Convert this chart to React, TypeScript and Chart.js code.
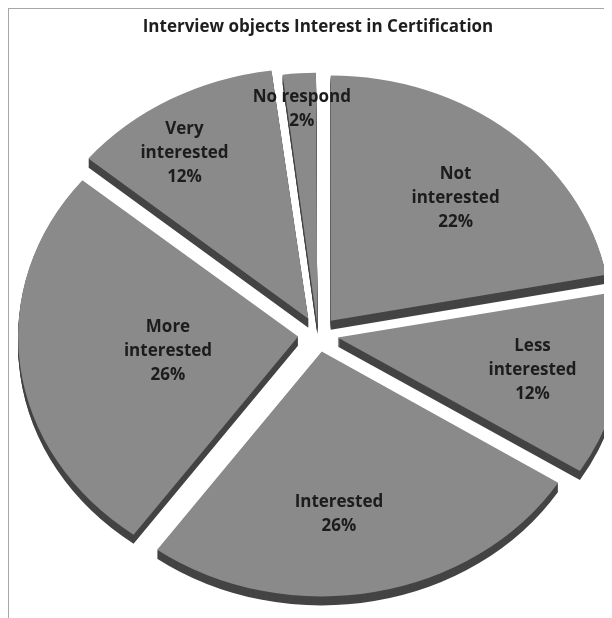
import React, { useEffect, useRef } from "react";
import { Chart, registerables } from "chart.js";

Chart.register(...registerables);

const title = "Interview objects Interest in Certification";
const categories = [
  "Not interested",
  "Less interested",
  "Interested",
  "More interested",
  "Very interested",
  "No respond",
];
const labelLines = [
  ["Not", "interested"],
  ["Less", "interested"],
  ["Interested"],
  ["More", "interested"],
  ["Very", "interested"],
  ["No respond"],
];
const percentages = [22, 12, 26, 26, 12, 2];

// styling / layout
const FACE = "#8a8a8a";
const SIDE = "#444444";
const KY = 0.875;
const DEPTH = 9;
const RADIUS = 280;
const explode = [80, 80, 80, 80, 80, 40];
const labelRadius = [0.74, 0.78, 0.74, 0.54, 0.88, 0.92];
const labelAngleShift = [2, 0, 5, 0, -4, 0]; // degrees

const setEllipse = (ctx: CanvasRenderingContext2D, cx: number, cy: number) => {
  ctx.translate(cx, cy);
  ctx.scale(1, KY);
  ctx.translate(-cx, -cy);
};

const pie3d = {
  id: "pie3d",
  beforeDatasetsDraw(chart: any) {
    const ctx: CanvasRenderingContext2D = chart.ctx;
    const arcs = chart.getDatasetMeta(0).data as any[];
    if (!arcs.length) return;
    const cx = arcs[0].x;
    const cy = arcs[0].y;
    for (let d = DEPTH; d >= 1; d--) {
      ctx.save();
      ctx.translate(0, d);
      setEllipse(ctx, cx, cy);
      arcs.forEach((a) => {
        const fake = Object.assign(Object.create(Object.getPrototypeOf(a)), a);
        fake.options = Object.assign({}, a.options, { backgroundColor: SIDE, borderWidth: 0 });
        fake.draw(ctx);
      });
      ctx.restore();
    }
    ctx.save();
    setEllipse(ctx, cx, cy);
  },
  afterDatasetsDraw(chart: any) {
    const ctx: CanvasRenderingContext2D = chart.ctx;
    const arcs = chart.getDatasetMeta(0).data as any[];
    if (!arcs.length) return;
    ctx.restore();
    const cx = arcs[0].x;
    const cy = arcs[0].y;
    ctx.save();
    ctx.font = "bold 17px 'Open Sans'";
    ctx.fillStyle = "#1c1c1c";
    ctx.textAlign = "center";
    ctx.textBaseline = "middle";
    const lh = 24;
    arcs.forEach((a, i) => {
      const mid = (a.startAngle + a.endAngle) / 2 + (labelAngleShift[i] * Math.PI) / 180;
      const r = labelRadius[i] * RADIUS;
      const x = cx + Math.cos(mid) * r;
      const y = cy + Math.sin(mid) * r * KY;
      const lines = [...labelLines[i], `${percentages[i]}%`];
      lines.forEach((t, k) => {
        ctx.fillText(t, x, y + (k - (lines.length - 1) / 2) * lh);
      });
    });
    ctx.restore();
  },
};

export default function App() {
  const ref = useRef<HTMLCanvasElement | null>(null);
  useEffect(() => {
    document.documentElement.style.overflow = "hidden";
    document.body.style.overflow = "hidden";
    const canvas = ref.current!;
    const chart = new Chart(canvas, {
      type: "pie",
      data: {
        labels: categories,
        datasets: [
          {
            data: percentages,
            backgroundColor: FACE,
            borderWidth: 0,
            offset: explode,
            hoverOffset: 0,
            radius: RADIUS,
            clip: false,
          } as any,
        ],
      },
      options: {
        responsive: false,
        animation: false,
        devicePixelRatio: 1,
        layout: { padding: { left: 15, right: 0, top: 0, bottom: 0 } },
        plugins: {
          legend: { display: false },
          tooltip: { enabled: false },
          title: {
            display: true,
            text: title,
            color: "#1e1e1e",
            font: { family: "'Open Sans'", size: 17, weight: "bold" },
            padding: { top: 8, bottom: 13 },
          },
        },
        events: [],
      } as any,
      plugins: [pie3d],
    });
    return () => chart.destroy();
  }, []);
  return (
    <div
      style={{
        width: 603,
        height: 609,
        borderLeft: "1px solid #a6a6a6",
        borderTop: "1px solid #a6a6a6",
        background: "#fff",
        overflow: "hidden",
      }}
    >
      <canvas ref={ref} width={603} height={609} style={{ display: "block" }} />
    </div>
  );
}
